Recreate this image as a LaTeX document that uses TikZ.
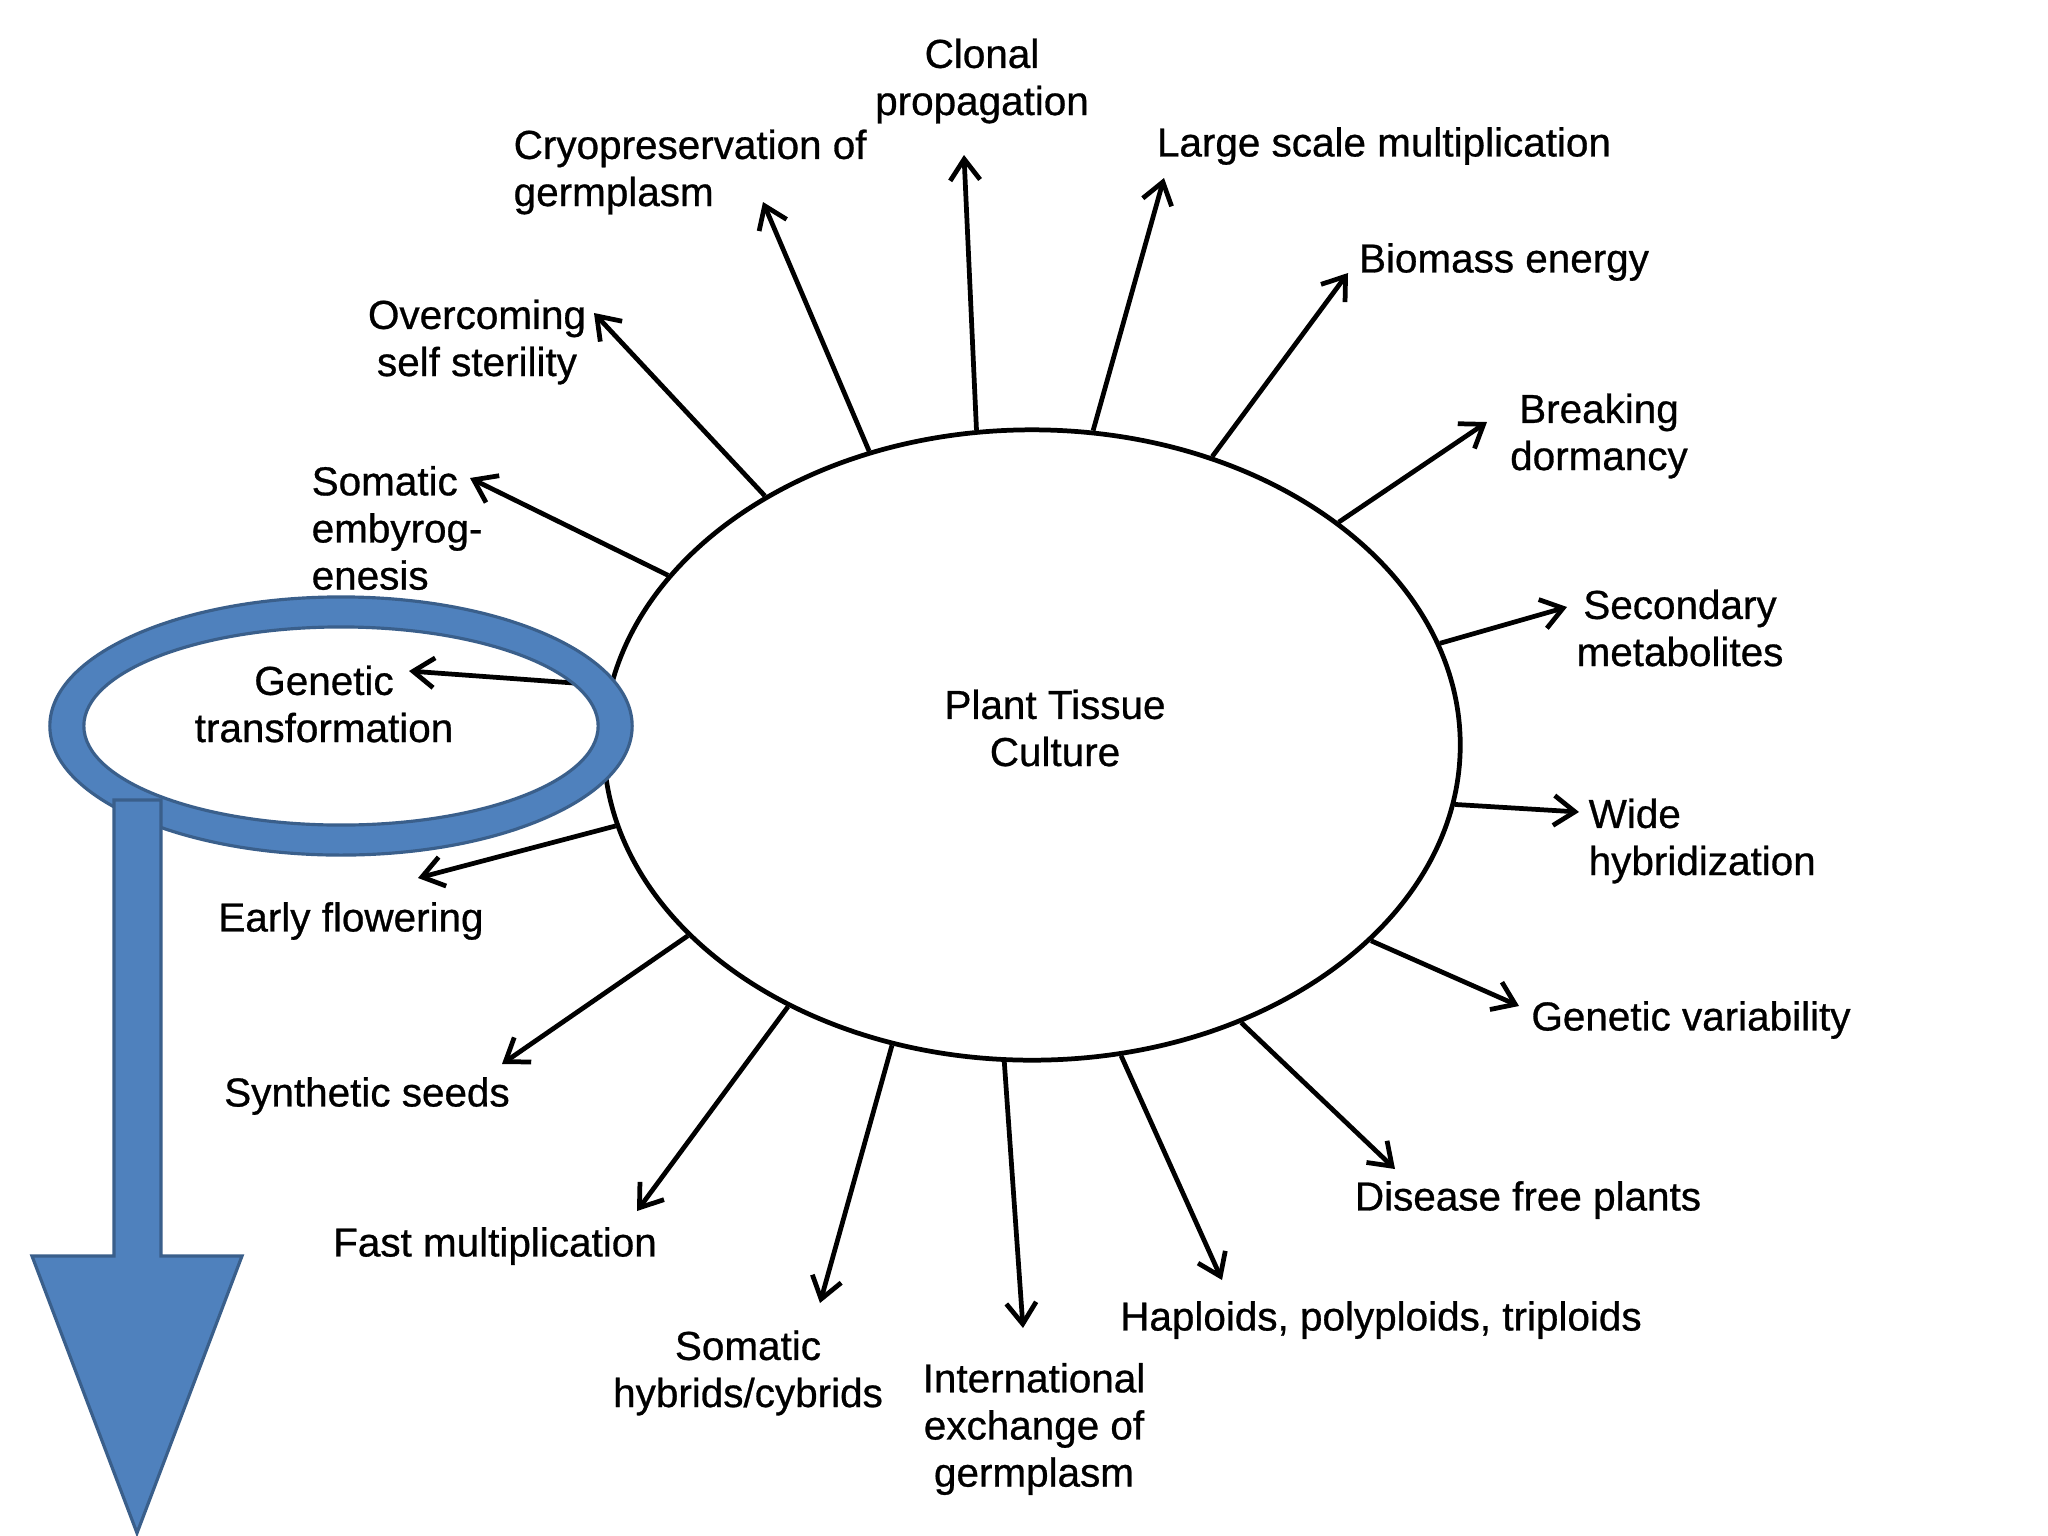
\documentclass[tikz,border=0pt]{standalone}
\usepackage{fontspec}
\setmainfont{Liberation Sans}
\newfontfamily\lblfont{Liberation Sans}[FakeBold=0.7]
\usetikzlibrary{arrows.meta,shapes.geometric}
\definecolor{ringfill}{HTML}{4F81BD}
\definecolor{ringline}{HTML}{3A5F8B}
\begin{document}
\begin{tikzpicture}[x=0.01cm,y=-0.01cm,
  lbl/.style={font=\lblfont\fontsize{11.5pt}{13.4pt}\selectfont, inner sep=0pt, align=center},
  lblL/.style={lbl, align=left},
  spoke/.style={line width=1.35pt, -{Straight Barb[length=6pt,width=8.5pt]}},
  bluebox/.style={fill=ringfill, draw=ringline, line width=0.9pt, line join=miter}]
\useasboundingbox (0,0) rectangle (2048,1536);
\fill[white] (0,0) rectangle (2048,1536);

% central ellipse
\node[draw, ellipse, line width=1.35pt, minimum width=8.56cm, minimum height=6.30cm, inner sep=0pt] (ptc) at (1032,745) {};
\node[lbl] (ptctext) at (1055,728) {Plant Tissue\\Culture};

% labels
\node[lbl] (clonal) at (982,81) {Clonal\\propagation};
\node[lbl] (large) at (1384,146) {Large scale multiplication};
\node[lbl] (biomass) at (1504,262) {Biomass energy};
\node[lbl] (breaking) at (1599,436) {Breaking\\dormancy};
\node[lbl] (secondary) at (1680,628) {Secondary\\metabolites};
\node[lblL, anchor=west] (wide) at (1588,841) {Wide\\hybridization};
\node[lbl] (genvar) at (1691,1020) {Genetic variability};
\node[lbl] (disease) at (1528,1200) {Disease free plants};
\node[lbl] (haploids) at (1381,1320) {Haploids, polyploids, triploids};
\node[lbl] (intl) at (1034,1429) {International\\exchange of\\germplasm};
\node[lbl] (somhyb) at (748,1373) {Somatic\\hybrids/cybrids};
\node[lbl] (fast) at (495,1246) {Fast multiplication};
\node[lbl] (synth) at (367,1096) {Synthetic seeds};
\node[lbl] (early) at (351,921) {Early flowering};
\node[lbl] (gentrans) at (324,704) {Genetic\\transformation};
\node[lblL, anchor=west] (somemb) at (311,528) {Somatic\\embyrog-\\enesis};
\node[lbl] (overcome) at (477,342) {Overcoming\\self sterility};
\node[lblL, anchor=west] (cryo) at (513,172) {Cryopreservation of\\germplasm};

% arrow tips
\coordinate (t1) at (964,155);
\coordinate (t2) at (1164,178);
\coordinate (t3) at (1348,273);
\coordinate (t4) at (1487,422);
\coordinate (t5) at (1567,607);
\coordinate (t6) at (1579,812);
\coordinate (t7) at (1519,1006);
\coordinate (t8) at (1395,1169);
\coordinate (t9) at (1222,1280);
\coordinate (t10) at (1023,1328);
\coordinate (t11) at (820,1303);
\coordinate (t12) at (637,1211);
\coordinate (t13) at (502,1064);
\coordinate (t14) at (418,878);
\coordinate (t15) at (409,671);
\coordinate (t16) at (470,478);
\coordinate (t17) at (594,313);
\coordinate (t18) at (763,202);

% spokes
\draw[spoke] (ptc.100.2) -- (t1);
\draw[spoke] (ptc.79.9) -- (t2);
\draw[spoke] (ptc.58.4) -- (t3);
\draw[spoke] (ptc.36.8) -- (t4);
\draw[spoke] (ptc.14.6) -- (t5);
\draw[spoke] (ptc.352.8) -- (t6);
\draw[spoke] (ptc.330.4) -- (t7);
\draw[spoke] (ptc.307.9) -- (t8);
\draw[spoke] (ptc.286.0) -- (t9);
\draw[spoke] (ptc.265.2) -- (t10);
\draw[spoke] (ptc.245.5) -- (t11);
\draw[spoke] (ptc.227.5) -- (t12);
\draw[spoke] (ptc.209.7) -- (t13);
\draw[spoke] (ptc.191.7) -- (t14);
\draw[spoke] (ptc.172.9) -- (t15);
\draw[spoke] (ptc.155.0) -- (t16);
\draw[spoke] (ptc.137.1) -- (t17);
\draw[spoke] (ptc.119.3) -- (t18);

% blue highlight ring and block arrow
\path[bluebox, even odd rule] (341,726) ellipse [x radius=2.91cm, y radius=1.29cm]
  (341,726) ellipse [x radius=2.57cm, y radius=0.99cm];
\path[bluebox] (114,800) -- (161,800) -- (161,1256) -- (242,1256) -- (137,1533)
  -- (32,1256) -- (114,1256) -- cycle;
\end{tikzpicture}
\end{document}
